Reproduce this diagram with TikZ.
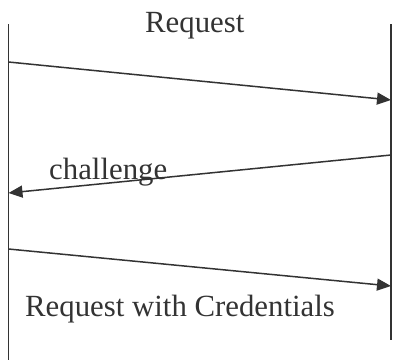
\documentclass[tikz,border=0pt]{standalone}
\usepackage{fontspec}
\setmainfont{Liberation Serif}
\usetikzlibrary{arrows.meta}
\definecolor{inkgray}{HTML}{333333}

\begin{document}
\begin{tikzpicture}[x=1pt,y=-1pt,
        lifeline/.style={line width=1.5pt,inkgray},
        msg/.style={line width=1.5pt,inkgray,-{Triangle[length=14pt,width=12pt]}},
        msgtext/.style={anchor=base west,inner sep=0pt,text=inkgray,font=\fontsize{30.8}{36}\selectfont}
    ]
    \useasboundingbox (0,0) rectangle (393,360);

    % lifelines
    \coordinate (clienttop) at (8.5,24);
    \coordinate (clientbot) at (8.5,360);
    \coordinate (servertop) at (391,24);
    \coordinate (serverbot) at (391,340);
    \draw[lifeline] (clienttop) -- (clientbot);
    \draw[lifeline] (servertop) -- (serverbot);

    % messages
    \coordinate (reqa) at (8.5,62);
    \coordinate (reqb) at (391,100);
    \coordinate (chala) at (391,155);
    \coordinate (chalb) at (8.5,193);
    \coordinate (creda) at (8.5,249);
    \coordinate (credb) at (391,286);
    \draw[msg] (reqa) -- (reqb);
    \draw[msg] (chala) -- (chalb);
    \draw[msg] (creda) -- (credb);

    \node[msgtext] (request) at (145,32) {Request};
    \node[msgtext] (challenge) at (49,179) {challenge};
    \node[msgtext] (withcred) at (25,316) {Request with Credentials};
\end{tikzpicture}
\end{document}
